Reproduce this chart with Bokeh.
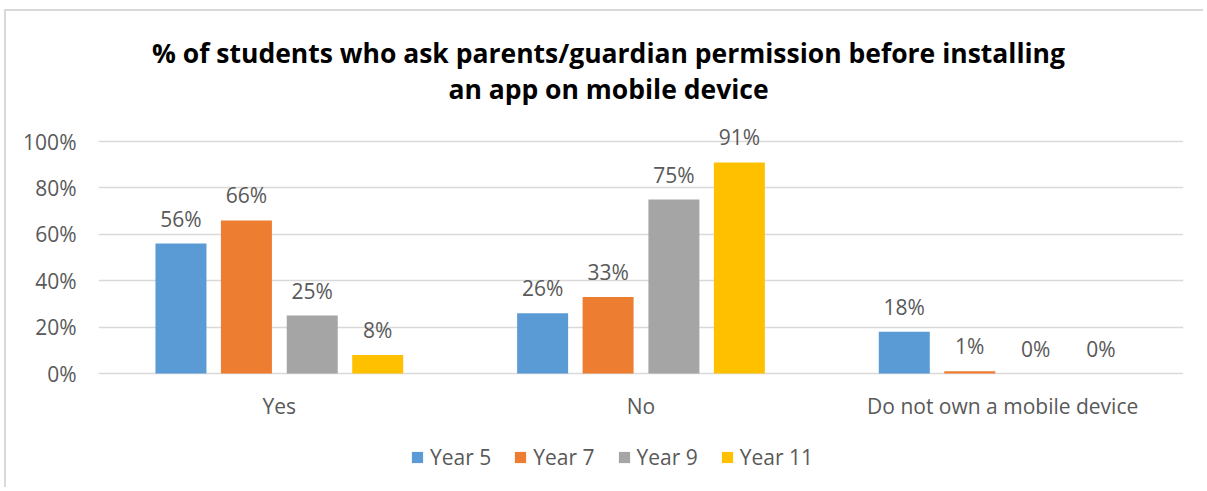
from bokeh.plotting import figure
from bokeh.models import (ColumnDataSource, FactorRange, Range1d, Legend, LegendItem, Label,
                          FixedTicker, CustomJSTickFormatter, LabelSet)
from bokeh.transform import dodge
from bokeh.core.properties import value
from bokeh.embed import file_html
from bokeh.resources import INLINE

categories = ["Yes", "No", "Do not own a mobile device"]
series_names = ["Year 5", "Year 7", "Year 9", "Year 11"]
year5 = [56, 26, 18]
year7 = [66, 33, 1]
year9 = [25, 75, 0]
year11 = [8, 91, 0]
colors = ["#5B9BD5", "#ED7D31", "#A5A5A5", "#FFC000"]
y_ticks = [0, 20, 40, 60, 80, 100]
title_lines = ["% of students who ask parents/guardian permission before installing",
               "an app on mobile device"]

FONT = "Open Sans"
TXT = "#595959"

# layout (pixels, relative to the figure's own canvas)
W, H = 1199, 478
PX_TOP_GRID, PX_ZERO = 130, 362
FRAME_BOTTOM = 476
px_per_unit = (PX_ZERO - PX_TOP_GRID) / 100.0
y_top = 100 + PX_TOP_GRID / px_per_unit
y_bottom = -(FRAME_BOTTOM - PX_ZERO) / px_per_unit

src = ColumnDataSource(dict(
    cat=categories,
    y5=year5, y7=year7, y9=year9, y11=year11,
    l5=[f"{v}%" for v in year5], l7=[f"{v}%" for v in year7],
    l9=[f"{v}%" for v in year9], l11=[f"{v}%" for v in year11],
))

p = figure(x_range=FactorRange(*categories), y_range=Range1d(y_bottom, y_top),
           width=W, height=H, output_backend="svg", toolbar_location=None,
           x_axis_location=None,
           min_border_left=92, min_border_right=22, min_border_top=0,
           min_border_bottom=H - FRAME_BOTTOM)
p.title = None
p.styles = {"margin-left": "4px", "margin-top": "9px",
            "border-left": "2px solid #D9D9D9", "border-top": "2px solid #D9D9D9"}

offsets = [-0.272, -0.091, 0.091, 0.272]
keys = ["y5", "y7", "y9", "y11"]
lkeys = ["l5", "l7", "l9", "l11"]
renderers = []
for off, k, lk, c in zip(offsets, keys, lkeys, colors):
    r = p.vbar(x=dodge("cat", off, range=p.x_range), top=k, width=0.141, bottom=0,
               source=src, fill_color=c, line_color=None)
    renderers.append(r)
    p.add_layout(LabelSet(x=dodge("cat", off, range=p.x_range), y=k, text=lk, source=src,
                          text_align="center", text_baseline="middle", y_offset=25,
                          text_font=value(FONT), text_font_size="21px", text_color=TXT))

# category labels under the 0% line
p.add_layout(LabelSet(x="cat", y=value(0), text="cat", source=src, y_offset=-32,
                      text_align="center", text_baseline="middle",
                      text_font=value(FONT), text_font_size="21px", text_color=TXT))

# two-line title
for line, off in zip(title_lines, [321, 285]):
    p.add_layout(Label(x=1.5, y=0, x_offset=-32.5, y_offset=off, text=line,
                       text_align="center", text_baseline="middle",
                       text_font=FONT, text_font_size="26.5px", text_font_style="bold",
                       text_color="#000000"))

p.yaxis.ticker = FixedTicker(ticks=y_ticks)
p.yaxis.formatter = CustomJSTickFormatter(code="return tick + '%';")
p.yaxis.axis_line_color = None
p.yaxis.major_tick_line_color = None
p.yaxis.minor_tick_line_color = None
p.yaxis.major_label_text_font = FONT
p.yaxis.major_label_text_font_size = "21px"
p.yaxis.major_label_text_color = TXT
p.yaxis.major_label_standoff = 16
p.xgrid.grid_line_color = None
p.ygrid.grid_line_color = "#D9D9D9"
p.ygrid.grid_line_width = 1.3
p.outline_line_color = None

legend = Legend(items=[LegendItem(label=n, renderers=[r]) for n, r in zip(series_names, renderers)],
                orientation="horizontal", location=(312, 16),
                label_text_font=FONT, label_text_font_size="21px", label_text_color=TXT,
                glyph_width=14, glyph_height=14, label_standoff=6, spacing=22,
                border_line_color=None, background_fill_alpha=0, margin=0, padding=0)
p.add_layout(legend, "center")

open("out.html", "w").write(file_html(p, INLINE))
